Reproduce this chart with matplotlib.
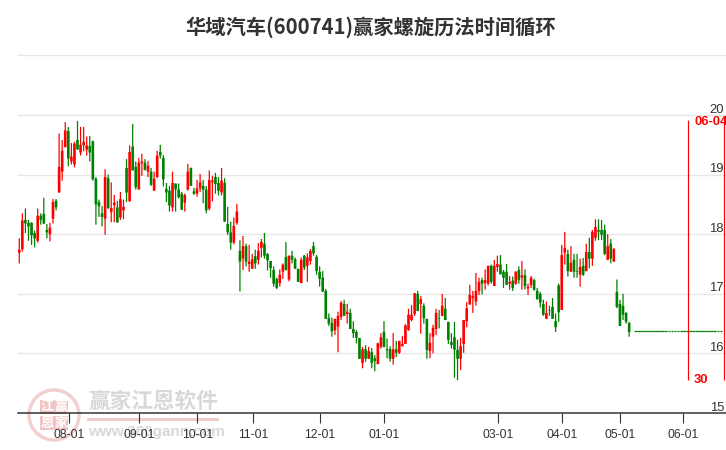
import numpy as np
import matplotlib
matplotlib.use("Agg")
import matplotlib.pyplot as plt
from matplotlib.patches import Circle, FancyBboxPatch
from matplotlib.transforms import blended_transform_factory

plt.rcParams['font.family'] = ['Liberation Sans', 'Noto Sans CJK SC', 'DejaVu Sans']

title = "华域汽车(600741)赢家螺旋历法时间循环"

highs = [17.93,18.35,18.43,18.24,18.20,18.06,18.43,18.35,18.61,18.17,
         18.19,18.59,18.59,19.69,19.58,19.88,19.80,19.53,19.55,19.90,
         19.80,19.80,19.64,19.65,19.57,18.96,18.58,18.47,19.09,19.00,
         18.87,18.66,18.56,18.71,18.58,19.26,19.49,19.85,19.22,19.28,
         19.35,19.26,19.23,19.11,19.05,19.40,19.50,19.33,18.86,18.81,
         19.05,18.85,18.85,18.71,18.68,19.18,19.12,18.78,18.91,19.01,
         18.91,18.81,19.07,18.98,19.03,18.96,19.11,18.94,18.46,18.21,
         18.28,18.51,17.90,17.97,17.84,17.82,17.67,17.74,17.85,17.92,
         18.02,17.68,17.55,17.46,17.27,17.41,17.51,17.87,17.64,17.72,
         17.61,17.42,17.61,17.65,17.68,17.75,17.87,17.65,17.46,17.38,
         17.08,16.67,16.60,16.58,16.70,16.88,16.90,16.83,16.75,16.54,
         16.39,16.26,16.11,16.14,16.11,16.09,15.97,16.18,16.34,16.54,
         16.25,16.12,16.34,16.21,16.21,16.29,16.49,16.75,16.81,17.01,
         17.05,16.96,16.84,16.58,16.34,16.48,16.75,16.73,17.00,16.93,
         16.53,16.34,16.53,16.23,16.26,16.56,16.86,17.15,17.05,17.35,
         17.27,17.27,17.41,17.47,17.49,17.57,17.64,17.65,17.40,17.50,
         17.30,17.29,17.38,17.46,17.55,17.41,17.17,17.30,17.25,17.10,
         17.03,16.90,16.87,16.80,16.93,16.67,17.17,17.82,18.04,17.74,
         17.80,17.67,17.67,17.59,17.60,17.84,17.94,18.07,18.25,18.25,
         18.24,18.16,18.00,17.92,17.77,17.24,16.90,17.00,16.69,16.53]

lows = [17.51,17.71,18.02,17.89,17.82,17.78,17.86,18.16,18.17,17.93,
        17.88,18.18,18.40,18.70,18.90,19.46,19.14,19.17,19.12,19.42,
        19.32,19.39,19.32,19.22,18.90,18.16,18.29,18.13,17.99,18.42,
        18.20,18.20,18.19,18.24,18.25,18.54,18.55,19.07,18.75,18.75,
        18.98,19.07,18.96,18.81,18.73,18.94,19.27,18.80,18.54,18.38,
        18.38,18.38,18.60,18.41,18.38,18.73,18.81,18.66,18.63,18.71,
        18.52,18.35,18.40,18.55,18.68,18.65,18.65,18.21,17.99,17.74,
        17.83,18.16,17.04,17.40,17.46,17.37,17.42,17.42,17.49,17.61,
        17.59,17.39,17.27,17.12,17.08,17.12,17.25,17.39,17.21,17.51,
        17.42,17.20,17.18,17.40,17.20,17.49,17.64,17.32,17.12,17.03,
        16.58,16.46,16.28,16.31,16.02,16.56,16.63,16.50,16.41,16.26,
        16.17,15.91,15.75,15.86,15.91,15.75,15.70,15.82,16.08,16.10,
        15.92,15.86,15.81,15.94,15.99,16.12,16.16,16.38,16.54,16.63,
        16.71,16.33,16.50,15.91,15.92,16.00,16.31,16.42,16.62,16.56,
        16.16,16.08,15.59,15.55,15.72,16.01,16.44,16.82,16.68,16.80,
        16.98,16.99,17.07,17.14,17.17,17.13,17.37,17.32,17.10,17.15,
        17.07,17.05,17.15,17.17,17.07,17.07,16.98,17.10,17.05,16.90,
        16.77,16.63,16.58,16.63,16.58,16.36,16.53,16.73,17.49,17.29,
        17.37,17.27,17.27,17.12,17.30,17.38,17.43,17.47,17.89,17.90,
        17.90,17.65,17.57,17.51,17.54,16.76,16.46,16.56,16.50,16.28]

opens = [17.69,17.75,18.24,18.19,18.19,18.02,17.89,18.31,18.34,18.07,
         18.00,18.26,18.56,18.70,19.05,19.46,19.73,19.22,19.17,19.58,
         19.37,19.49,19.42,19.48,19.56,18.93,18.54,18.35,18.26,18.94,
         18.37,18.49,18.45,18.28,18.40,19.11,18.55,19.47,19.13,18.75,
         19.19,19.20,19.05,19.05,18.73,18.96,19.38,19.28,18.76,18.73,
         18.45,18.85,18.75,18.68,18.53,18.75,19.11,18.72,18.68,18.77,
         18.81,18.75,18.43,18.87,18.96,18.86,18.70,18.86,18.17,18.03,
         17.86,18.19,17.72,17.59,17.80,17.50,17.42,17.63,17.57,17.77,
         17.84,17.67,17.55,17.40,17.25,17.18,17.37,17.62,17.24,17.64,
         17.58,17.42,17.18,17.64,17.47,17.55,17.80,17.62,17.37,17.27,
         17.05,16.59,16.51,16.39,16.45,16.61,16.83,16.66,16.68,16.41,
         16.36,16.26,15.84,16.07,15.91,16.02,15.92,15.82,16.11,16.36,
         16.07,16.07,15.91,16.07,16.01,16.12,16.16,16.39,16.56,16.66,
         17.00,16.83,16.80,16.58,16.04,16.28,16.41,16.59,16.63,16.75,
         16.53,16.19,16.27,16.06,15.91,16.16,16.54,16.82,16.93,16.87,
         17.05,17.23,17.18,17.17,17.47,17.13,17.45,17.49,17.37,17.37,
         17.17,17.22,17.17,17.40,17.27,17.31,17.09,17.15,17.23,17.05,
         17.00,16.83,16.58,16.73,16.78,16.54,17.14,16.73,17.69,17.67,
         17.37,17.57,17.38,17.32,17.47,17.38,17.70,17.59,17.94,18.07,
         18.07,18.07,17.57,17.84,17.54,17.03,16.83,16.80,16.68,16.51]

closes = [17.74,18.23,18.18,18.13,17.98,17.93,18.31,18.24,18.18,18.03,
          18.11,18.54,18.45,19.13,19.40,19.74,19.27,19.30,19.52,19.42,
          19.50,19.55,19.49,19.37,18.92,18.50,18.47,18.29,18.96,18.44,
          18.44,18.53,18.20,18.59,18.46,18.70,19.38,19.07,18.79,19.20,
          19.22,19.08,19.15,18.83,18.93,19.32,19.32,18.92,18.70,18.48,
          18.86,18.75,18.62,18.41,18.66,19.05,18.81,18.68,18.77,18.87,
          18.75,18.40,18.91,18.90,18.84,18.73,18.90,18.21,18.03,17.86,
          18.14,18.38,17.54,17.80,17.54,17.54,17.58,17.51,17.72,17.87,
          17.64,17.56,17.43,17.17,17.10,17.32,17.49,17.40,17.64,17.57,
          17.42,17.20,17.57,17.44,17.61,17.72,17.68,17.38,17.25,17.04,
          16.58,16.50,16.37,16.58,16.63,16.85,16.63,16.70,16.41,16.34,
          16.26,15.91,16.07,15.91,16.04,15.84,15.87,16.17,16.27,16.11,
          16.05,15.91,16.07,16.01,16.21,16.16,16.47,16.65,16.65,17.01,
          16.71,16.91,16.59,16.06,16.18,16.43,16.68,16.58,16.80,16.56,
          16.23,16.14,16.06,15.91,16.12,16.56,16.76,16.98,16.96,17.05,
          17.20,17.17,17.23,17.47,17.20,17.47,17.50,17.33,17.27,17.15,
          17.20,17.10,17.37,17.23,17.31,17.13,17.12,17.27,17.07,16.91,
          16.85,16.65,16.68,16.72,16.58,16.44,16.69,17.65,17.77,17.38,
          17.52,17.37,17.37,17.45,17.32,17.70,17.59,18.04,18.12,18.04,
          17.99,17.67,17.80,17.59,17.75,16.78,16.46,16.65,16.53,16.36]

# flat projection after the last real candle
flat_price = 16.37
flat_idx = list(range(201, 230))

tick_idx = [16.3, 39.2, 58.1, 76.3, 98.1, 119, 156.2, 177.1, 196, 216.5]
tick_labels = ["08-01", "09-01", "10-01", "11-01", "12-01", "01-01", "03-01", "04-01", "05-01", "06-01"]
y_labels = [15, 16, 17, 18, 19, 20]
grid_levels = [16, 17, 18, 19, 20, 21]

cycle_idx = [218.3, 230.1]
cycle_top = [19.92, 19.95]
cycle_bottom = 15.55

W, H = 726, 450
fig = plt.figure(figsize=(W / 100, H / 100), dpi=100, facecolor="white")

# watermark lives in its own pixel axes, under the chart
wm = fig.add_axes([0, 0, 1, 1], zorder=0)
wm.set_xlim(0, W)
wm.set_ylim(H, 0)
wm.axis("off")
wm.add_patch(Circle((54, 415), 25, fill=False, ec="#f3d0d0", lw=2.5))
for cx, cy, ch in [(47, 407, "江"), (61, 407, "赢"), (47, 423, "恩"), (61, 423, "家")]:
    wm.add_patch(FancyBboxPatch((cx - 6.5, cy - 6.5), 13, 13, boxstyle="round,pad=0.5",
                                fc="#efc4c4", ec="none"))
    wm.text(cx, cy, ch, color="white", fontsize=9.5, ha="center", va="center",
            family=["Noto Sans CJK SC"], fontweight="bold")
wm.text(88, 401, "赢家江恩软件", color="#d8d8d8", fontsize=15.6, ha="left", va="center",
        family=["Noto Sans CJK SC"], fontweight="bold")
wm.plot([88, 217], [419, 419], color="#ecc9c9", lw=2)
wm.text(88, 432, "www.360gann.com", color="#d8d8d8", fontsize=11, ha="left", va="center",
        fontweight="bold")

ax = fig.add_axes([18 / W, 1 - 413 / H, 708 / W, (413 - 55.4) / H], zorder=1)
ax.patch.set_alpha(0)
ax.set_xlim(-0.42, 230.6)
ax.set_ylim(15, 21)

for level in grid_levels:
    ax.axhline(level, color="#e6e6e6", lw=1, zorder=1, clip_on=False)

x = np.arange(len(opens))
o = np.array(opens)
c = np.array(closes)
colors = ["#ff0000" if b > a else "#008000" for a, b in zip(opens, closes)]

wicks = ax.vlines(x, lows, highs, colors=colors, lw=0.9, zorder=2)
wicks.set_snap(False)
bodies = ax.bar(x, np.abs(c - o), bottom=np.minimum(o, c), width=0.86, color=colors, lw=0, zorder=3)
for body in bodies:
    body.set_snap(False)

ax.hlines([flat_price] * len(flat_idx), np.array(flat_idx) - 0.48, np.array(flat_idx) + 0.42,
          color="#008000", lw=0.9, zorder=3)

ax.vlines(cycle_idx, cycle_bottom, cycle_top, colors="#ff0000", lw=0.85, zorder=4)
ax.annotate("06-04", (cycle_idx[0], 19.92), xytext=(4.2, -1.6), textcoords="offset points",
            color="#ff0000", fontsize=9.4, fontweight="bold", va="center", ha="left",
            annotation_clip=False)
ax.annotate("30", (cycle_idx[0], cycle_bottom), xytext=(4.2, 0), textcoords="offset points",
            color="#ff0000", fontsize=9.4, fontweight="bold", va="center", ha="left")

trans = blended_transform_factory(fig.transFigure, ax.transData)
for v in y_labels:
    ax.text(724 / W, v - 0.01, str(v), transform=trans, ha="right", va="bottom",
            color="#333333", fontsize=9.4, zorder=5)

for side in ["top", "left", "right"]:
    ax.spines[side].set_visible(False)
ax.spines["bottom"].set_color("#333333")
ax.spines["bottom"].set_linewidth(1.1)
ax.set_yticks([])
ax.set_xticks(tick_idx)
ax.set_xticklabels(tick_labels, fontsize=8.8, color="#333333")
ax.tick_params(axis="x", length=7.2, width=0.8, color="#333333", pad=4.2)

fig.text(371 / W, 1 - 27 / H, title, ha="center", va="center", fontsize=14.6,
         fontweight="bold", color="#333333",
         family=["Noto Sans CJK SC", "DejaVu Sans"])

fig.savefig("out.png", dpi=100)
